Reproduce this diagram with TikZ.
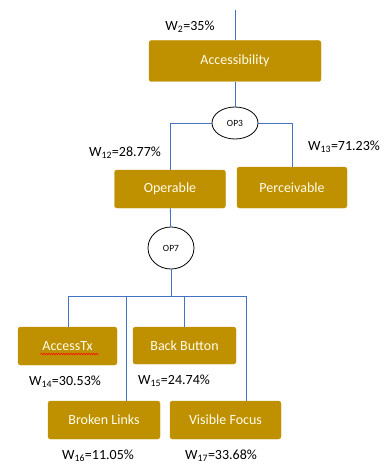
\documentclass[tikz,border=0pt]{standalone}
\usepackage{fontspec}
\setmainfont{Carlito}
\usetikzlibrary{positioning,calc,shapes.geometric,decorations.pathmorphing}

\definecolor{gold}{HTML}{BF9000}
\definecolor{linkblue}{HTML}{4472C4}

\begin{document}
\begin{tikzpicture}[
    x=1pt, y=-1pt,
    box/.style={draw=gold, fill=gold, rounded corners=2.5pt, text=white!92!yellow, font=\fontsize{14}{16}\selectfont, inner sep=0pt},
    gate/.style={ellipse, draw, thick, fill=white, inner sep=0pt, font=\fontsize{9.5}{11}\selectfont},
    link/.style={draw, color=linkblue, line width=0.8pt},
    weight/.style={font=\fontsize{14}{16}\selectfont, inner sep=1pt}
]
\useasboundingbox (0,0) rectangle (384,465);

% Define node positions
\coordinate (top) at (235,10);
\node[box, minimum width=172pt, minimum height=41pt] (acc) at (235,61) {Accessibility};
\node[gate, minimum width=46pt, minimum height=32pt] (op3) at (235,123) {OP3};
\node[box, minimum width=111pt, minimum height=38pt] (oper) at (170,189) {Operable};
\node[box, minimum width=110pt, minimum height=41pt] (perc) at (292,187.5) {Perceivable};
\node[gate, minimum width=46pt, minimum height=42pt] (op7) at (171,248) {OP7};
\node[box, minimum width=99pt, minimum height=38pt] (acctx) at (67.5,346) {AccessTx\ };
\node[box, minimum width=103pt, minimum height=37pt] (back) at (184.5,345.5) {Back Button};
\node[box, minimum width=112pt, minimum height=38pt] (broken) at (104,420) {Broken Links};
\node[box, minimum width=111pt, minimum height=38pt] (visible) at (225.5,420) {Visible Focus};

% Bus under OP7
\coordinate (busmid) at (171,296);
\coordinate (bus1) at (68,296);
\coordinate (bus2) at (126,296);
\coordinate (bus3) at (184.5,296);
\coordinate (bus4) at (246,296);

% Draw connectors
\draw[link] (top) -- (acc);
\draw[link] (acc) -- (op3);
\draw[link] (op3.west) -| (oper.north);
\draw[link] (op3.east) -| (perc.north);
\draw[link] (oper) -- (op7);
\draw[link] (op7) -- (busmid);
\draw[link] (bus1) -- (bus4);
\draw[link] (bus1) -- (bus1 |- acctx.north);
\draw[link] (bus2) -- (bus2 |- broken.north);
\draw[link] (bus3) -- (bus3 |- back.north);
\draw[link] (bus4) -- (bus4 |- visible.north);

% Spell check underline
\draw[red, line width=0.5pt, decorate, decoration={snake, amplitude=0.7pt, segment length=2.5pt}]
    ($(acctx.center)+(-27,8)$) -- ($(acctx.center)+(31,8)$);

% Add weight labels
\node[weight] (w2) at (190,27) {W\textsubscript{2}=35\%};
\node[weight] (w12) at (125,153) {W\textsubscript{12}=28.77\%};
\node[weight] (w13) at (344,147) {W\textsubscript{13}=71.23\%};
\node[weight] (w14) at (65,382) {W\textsubscript{14}=30.53\%};
\node[weight] (w15) at (174,381) {W\textsubscript{15}=24.74\%};
\node[weight] (w16) at (98,456) {W\textsubscript{16}=11.05\%};
\node[weight] (w17) at (221,456) {W\textsubscript{17}=33.68\%};

\end{tikzpicture}
\end{document}
